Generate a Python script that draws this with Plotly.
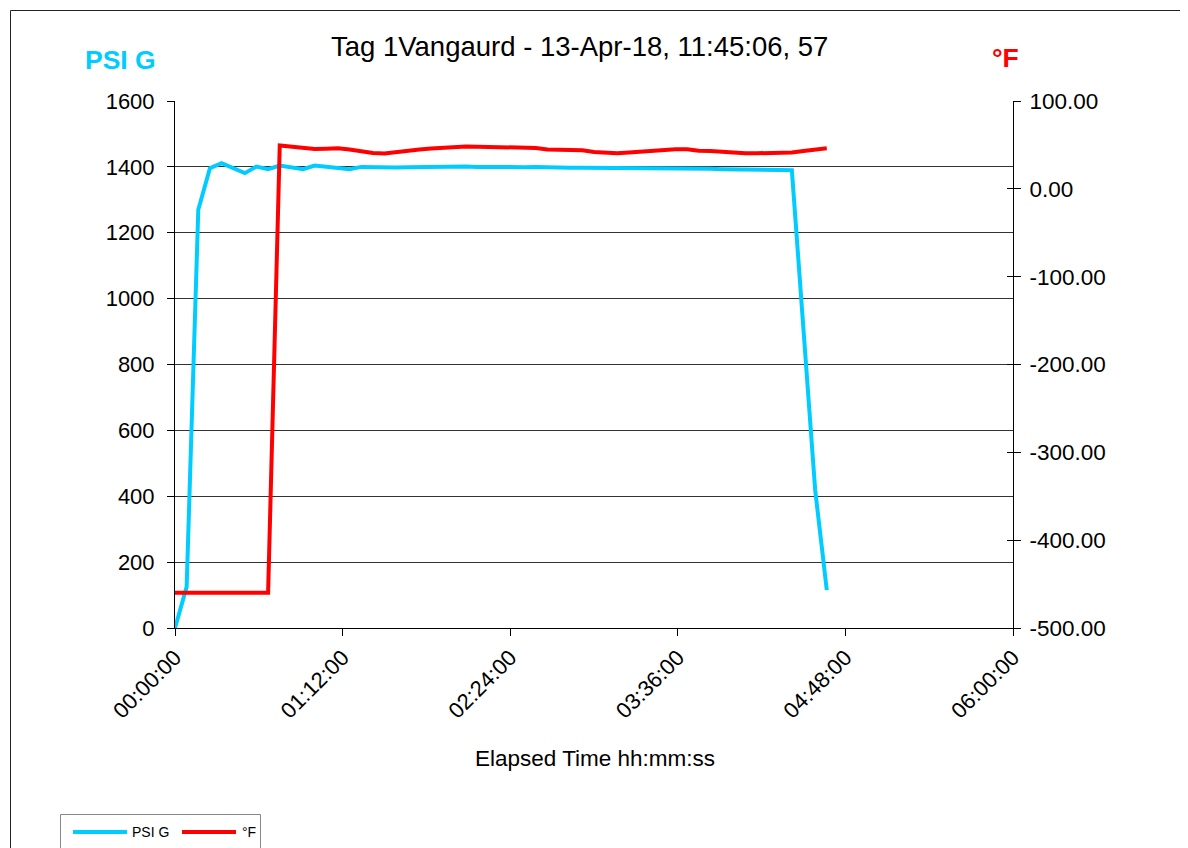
import plotly.graph_objects as go

# ---- data (elapsed minutes, 57 samples) ----
elapsed_min = [0, 5, 10, 15, 20, 25, 30, 35, 40, 45, 50, 55, 60, 65, 70, 75, 80, 85, 90, 95,
               100, 105, 110, 115, 120, 125, 130, 135, 140, 145, 150, 155, 160, 165, 170, 175,
               180, 185, 190, 195, 200, 205, 210, 215, 220, 225, 230, 235, 240, 245, 250, 255,
               260, 265, 270, 275, 280]

psi_g = [0, 125, 1270, 1396, 1411, 1395, 1381, 1401, 1393, 1404, 1399, 1393, 1404, 1400, 1396,
         1393, 1400, 1399, 1397, 1398, 1399, 1400, 1398, 1399, 1400, 1401, 1400, 1399, 1400, 1400,
         1399, 1400, 1398, 1398, 1397, 1397, 1397, 1396, 1396, 1396, 1395, 1395, 1395, 1395, 1394,
         1394, 1394, 1393, 1393, 1393, 1392, 1391, 1391, 1390, 905, 420, 115]

temp_f = [-460, -460, -460, -460, -460, -460, -460, -460, -460,
          49.3, 48.2, 46.5, 45.4, 45.7, 46.2, 44.8, 42.5, 40.8, 40.2, 42.0,
          43.7, 44.8, 45.9, 46.8, 47.6, 48.2, 48.0, 47.6, 46.8, 46.5,
          45.9, 46.5, 44.8, 44.4, 44.2, 43.9, 42.0, 40.8, 40.5, 41.4,
          42.5, 43.7, 45.0, 45.0, 45.0, 43.4, 43.1, 42.0, 40.8, 40.5,
          40.5, 40.5, 40.8, 41.4, 43.1, 44.8, 46.2]

x_tick_vals = [0, 72, 144, 216, 288, 360]
x_tick_text = ["00:00:00", "01:12:00", "02:24:00", "03:36:00", "04:48:00", "06:00:00"]
psi_ticks = [0, 200, 400, 600, 800, 1000, 1200, 1400, 1600]
psi_grid = [200, 400, 600, 800, 1000, 1200, 1400]
temp_ticks = [-500, -400, -300, -200, -100, 0, 100]
temp_tick_text = ["-500.00", "-400.00", "-300.00", "-200.00", "-100.00", "0.00", "100.00"]

series_names = ["PSI G", "°F"]
title_text = "Tag 1Vangaurd - 13-Apr-18, 11:45:06, 57"

CYAN = "#00CCFF"
RED = "#FF0000"
FONT = "Arial, Liberation Sans, sans-serif"

OFF = 8  # page body margin offset
W, H = 1188 - OFF, 848 - OFF
L, R, T, B = 175 - OFF, 1013 - OFF, 101 - OFF, 628 - OFF  # plot area pixel box (figure coords)


def px(xp):
    return (xp - OFF - L) / (R - L)


def py(yp):
    return (B - (yp - OFF)) / (B - T)


fig = go.Figure()
fig.add_trace(go.Scatter(x=elapsed_min, y=psi_g, name=series_names[0], mode="lines",
                         line=dict(color=CYAN, width=4), yaxis="y"))
fig.add_trace(go.Scatter(x=elapsed_min, y=temp_f, name=series_names[1], mode="lines",
                         line=dict(color=RED, width=4), yaxis="y2"))
# helper traces to anchor the grid/tick overlay axes
fig.add_trace(go.Scatter(x=[None], y=[None], yaxis="y3", showlegend=False, hoverinfo="skip"))
fig.add_trace(go.Scatter(x=[None], y=[None], yaxis="y4", showlegend=False, hoverinfo="skip"))

fig.update_layout(
    width=W, height=H,
    margin=dict(l=L, r=W - R, t=T, b=H - B, autoexpand=False),
    paper_bgcolor="white", plot_bgcolor="white",
    font=dict(family=FONT, color="black", size=22),
    showlegend=False,
    xaxis=dict(range=[0, 360], tickvals=x_tick_vals, ticktext=x_tick_text, tickangle=-45,
               showline=True, linecolor="black", linewidth=1, ticks="outside", ticklen=7,
               tickcolor="black", showgrid=False, zeroline=False,
               tickfont=dict(size=22, family=FONT)),
    yaxis=dict(range=[0, 1600], tickvals=psi_ticks, showline=True, linecolor="black",
               linewidth=1, ticks="outside", ticklen=7, tickcolor="black", showgrid=False,
               zeroline=False, tickfont=dict(size=22, family=FONT), ticklabelstandoff=8),
    yaxis2=dict(range=[-500, 100], tickvals=temp_ticks, ticktext=temp_tick_text,
                overlaying="y", side="right", anchor="x", showline=True, linecolor="black",
                linewidth=1, ticks="outside", ticklen=7, tickcolor="black", showgrid=False,
                zeroline=False, tickfont=dict(size=22.5, family=FONT), ticklabelstandoff=4),
    yaxis3=dict(range=[0, 1600], tickvals=psi_grid, overlaying="y", anchor="x", side="left",
                showticklabels=False, ticks="", showgrid=True, gridcolor="#333333",
                gridwidth=1, showline=False, zeroline=False),
    yaxis4=dict(range=[-500, 100], tickvals=temp_ticks, overlaying="y", anchor="x",
                side="right", showticklabels=False, ticks="inside", ticklen=6,
                tickcolor="black", showgrid=False, showline=False, zeroline=False),
)

# outer chart border
fig.add_shape(type="rect", xref="paper", yref="paper",
              x0=px(10.5), x1=px(1250), y0=py(900), y1=py(10.5),
              line=dict(color="#222222", width=1), fillcolor="rgba(0,0,0,0)", layer="below")

# custom legend (box, line swatches, labels)
fig.add_shape(type="rect", xref="paper", yref="paper",
              x0=px(60.5), x1=px(260.5), y0=py(900), y1=py(814.5),
              line=dict(color="#888888", width=1), fillcolor="white")
for (x0, x1, col) in [(73, 127, CYAN), (182, 236, RED)]:
    fig.add_shape(type="line", xref="paper", yref="paper", x0=px(x0), x1=px(x1),
                  y0=py(832), y1=py(832), line=dict(color=col, width=4))
for (xl, name) in [(130, series_names[0]), (240, series_names[1])]:
    fig.add_annotation(text=name, xref="paper", yref="paper", x=px(xl), y=py(832),
                       showarrow=False, xanchor="left", yanchor="middle",
                       font=dict(size=14, family=FONT, color="black"))

fig.add_annotation(text=title_text, xref="paper", yref="paper", x=px(579), y=py(46),
                   showarrow=False, xanchor="center", yanchor="middle",
                   font=dict(size=27.5, family=FONT, color="black"))
fig.add_annotation(text="<b>PSI G</b>", xref="paper", yref="paper", x=px(120), y=py(60),
                   showarrow=False, xanchor="center", yanchor="middle",
                   font=dict(size=26.5, family=FONT, color=CYAN))
fig.add_annotation(text="<b>°F</b>", xref="paper", yref="paper", x=px(1005), y=py(58),
                   showarrow=False, xanchor="center", yanchor="middle",
                   font=dict(size=26.5, family=FONT, color=RED))
fig.add_annotation(text="Elapsed Time hh:mm:ss", xref="paper", yref="paper", x=px(595),
                   y=py(758), showarrow=False, xanchor="center", yanchor="middle",
                   font=dict(size=22.5, family=FONT, color="black"))

fig.write_html("out.html")
